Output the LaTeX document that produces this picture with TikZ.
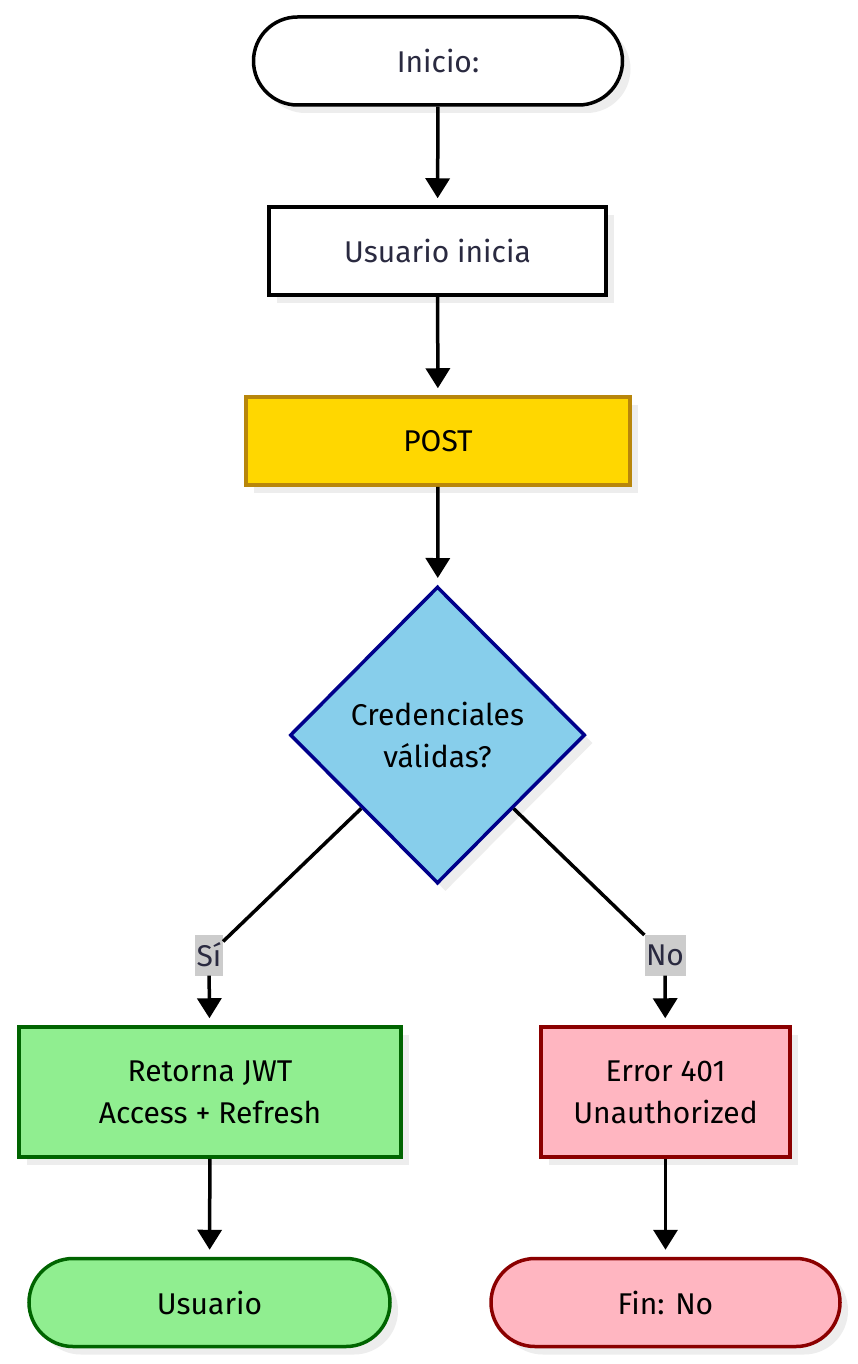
\documentclass[tikz,border=0pt]{standalone}
\usepackage{fontspec}
\setmainfont{Fira Sans}
\usetikzlibrary{shapes.geometric,shadows,arrows.meta}
\definecolor{ink}{HTML}{2A2A40}
\definecolor{goldfill}{HTML}{FFD700}
\definecolor{goldline}{HTML}{B8860B}
\definecolor{skyfill}{HTML}{87CEEB}
\definecolor{skyline}{HTML}{00008B}
\definecolor{okfill}{HTML}{90EE90}
\definecolor{okline}{HTML}{006400}
\definecolor{errfill}{HTML}{FFB6C1}
\definecolor{errline}{HTML}{8B0000}
\definecolor{tagfill}{HTML}{CCCCCC}
\definecolor{shade}{HTML}{EDEDED}
\tikzset{
  base/.style={draw,line width=3.5pt,align=center,inner sep=0pt,
    font=\fontsize{30}{42}\selectfont,
    drop shadow={shadow xshift=8pt,shadow yshift=-8pt,fill=shade,opacity=1}},
  stadium/.style={base,rectangle,rounded corners=44pt,minimum height=88pt},
  boxnode/.style={base,rectangle,minimum height=88pt},
  decision/.style={base,diamond,minimum width=295pt,minimum height=297pt},
  tag/.style={fill=tagfill,inner xsep=1.5pt,inner ysep=0pt,minimum height=41pt,text=ink,font=\fontsize{30}{42}\selectfont},
  flow/.style={line width=3.5pt},
  arrow/.style={flow,-{Triangle[length=20pt,width=24pt]},shorten >=7pt}
}
\begin{document}
\begin{tikzpicture}[x=1pt,y=-1pt]
\useasboundingbox[fill=white] (0,0) rectangle (858,1364);
\node(start) at (438,61)[stadium,minimum width=369pt,fill=white,text=ink]      {Inicio:};
\node(user) at (437.5,251)[boxnode,minimum width=337pt,fill=white,text=ink]    {Usuario inicia};
\node(post) at (438,441)[boxnode,minimum width=384pt,fill=goldfill,draw=goldline] {POST};
\node(cred) at (437.5,735)[decision,fill=skyfill,draw=skyline]                  {Credenciales\\válidas?};
\node(jwt) at (210,1092)[boxnode,minimum width=382pt,minimum height=130pt,fill=okfill,draw=okline] {Retorna JWT\\Access + Refresh};
\node(err) at (665.5,1092)[boxnode,minimum width=249pt,minimum height=130pt,fill=errfill,draw=errline] {Error 401\\Unauthorized};
\node(userend) at (209.5,1302.5)[stadium,minimum width=361pt,fill=okfill,draw=okline] {Usuario};
\node(fin) at (665.5,1302.5)[stadium,minimum width=349pt,fill=errfill,draw=errline]   {Fin: No};
\node(si) at (209,955)[tag] {Sí};
\node(no) at (665,955)[tag] {No};

\draw [flow] (cred) -- (si);
\draw [flow] (cred) -- (no);
\path [arrow]
  (start)  edge   (user)
  (user)   edge   (post)
  (post)   edge   (cred)
  (si)     edge   (jwt)
  (no)     edge   (err)
  (jwt)    edge   (userend)
  (err)    edge   (fin);

\end{tikzpicture}
\end{document}
